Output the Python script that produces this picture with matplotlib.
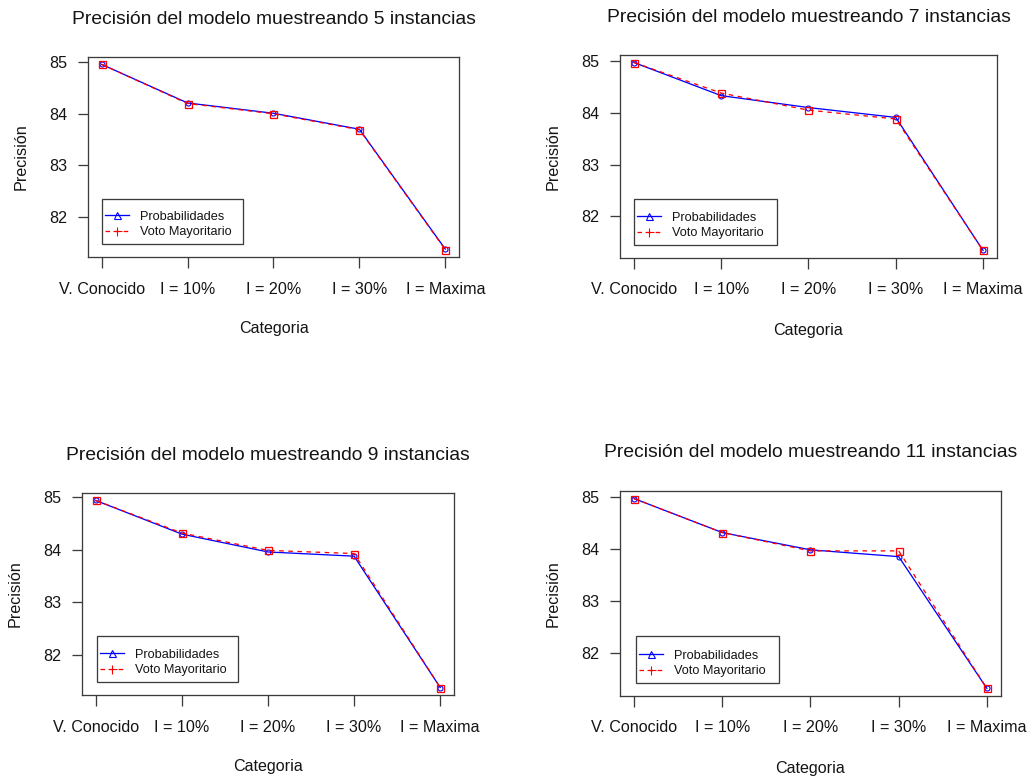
import matplotlib
matplotlib.use("Agg")
import matplotlib.pyplot as plt
from matplotlib.lines import Line2D
from matplotlib.patches import Rectangle

plt.rcParams['font.family'] = ['Liberation Sans', 'DejaVu Sans']

categories = ['V. Conocido', 'I = 10%', 'I = 20%', 'I = 30%', 'I = Maxima']
instancias = [5, 7, 9, 11]
prob_5 = [84.96, 84.21, 84.01, 83.70, 81.37]
voto_5 = [84.96, 84.20, 84.00, 83.69, 81.36]
prob_7 = [84.97, 84.33, 84.10, 83.91, 81.34]
voto_7 = [84.97, 84.38, 84.05, 83.88, 81.34]
prob_9 = [84.94, 84.30, 83.96, 83.88, 81.38]
voto_9 = [84.94, 84.32, 83.99, 83.93, 81.38]
prob_11 = [84.96, 84.31, 83.98, 83.85, 81.33]
voto_11 = [84.96, 84.31, 83.96, 83.96, 81.33]
yticks = [82, 83, 84, 85]

W, H = 1028, 778
DPI = 100
PT = 72.0 / DPI  # points per pixel

# axes boxes in pixels: left, top, right, bottom
boxes = [(88, 57, 459, 257), (620, 55, 997, 258),
         (82, 493, 454, 695), (620, 491, 1001, 696)]
title_gap = [37, 38, 37, 38]
# legend frame boxes in pixels: left, top, right, bottom
leg_boxes = [(102, 199, 243, 244), (634, 199, 777, 245),
             (97, 636, 238, 682), (636, 636, 779, 683)]
series = [(prob_5, voto_5), (prob_7, voto_7), (prob_9, voto_9), (prob_11, voto_11)]

fig = plt.figure(figsize=(W / DPI, H / DPI), dpi=DPI)
frame_col = '#3c3c3c'
txt_col = '#141414'

for i, (box, (prob, voto)) in enumerate(zip(boxes, series)):
    l, t, r, b = box
    aw, ah = r - l, b - t
    ax = fig.add_axes([l / W, 1 - b / H, aw / W, ah / H])
    x = list(range(1, len(categories) + 1))
    ax.plot(x, prob, color='blue', lw=1.3 * PT, marker='o', ms=5 * PT,
            mfc='none', mec='blue', mew=1.1 * PT, zorder=3)
    ax.plot(x, voto, color='red', lw=1.3 * PT, ls=(0, (3.5, 3.5)), marker='s',
            ms=7 * PT, mfc='none', mec='red', mew=1.3 * PT, zorder=4)
    ax.margins(x=0.04, y=0.04)
    ax.set_xticks(x)
    ax.set_xticklabels(categories)
    ax.set_yticks(yticks)
    ax.set_yticklabels([str(v) for v in yticks])
    for s in ax.spines.values():
        s.set_color(frame_col)
        s.set_linewidth(1.3 * PT)
    ax.tick_params(axis='both', direction='out', length=10.5 * PT,
                   width=1.3 * PT, color=frame_col, labelsize=11.6,
                   labelcolor=txt_col)
    ax.tick_params(axis='x', pad=14 * PT)
    ax.tick_params(axis='y', pad=10 * PT)
    ax.annotate('Precisión del modelo muestreando %d instancias' % instancias[i],
                xy=(0.5, 1), xycoords='axes fraction',
                xytext=(0, title_gap[i] * PT), textcoords='offset points',
                ha='center', va='center', fontsize=13.9, color=txt_col)
    ax.annotate('Categoria', xy=(0.5, 0), xycoords='axes fraction',
                xytext=(0, -72 * PT), textcoords='offset points',
                ha='center', va='center', fontsize=11.6, color=txt_col)
    ax.annotate('Precisión', xy=(0, 0.5), xycoords='axes fraction',
                xytext=(-67 * PT, 0), textcoords='offset points',
                ha='center', va='center', rotation=90, fontsize=11.6,
                color=txt_col)

    # legend frame
    bl, bt, br, bb = leg_boxes[i]
    rect = Rectangle(((bl - l) / aw, (b - bb) / ah), (br - bl) / aw, (bb - bt) / ah,
                     transform=ax.transAxes, facecolor='white',
                     edgecolor=frame_col, lw=1.3 * PT, zorder=5, clip_on=False)
    ax.add_patch(rect)
    handles = [Line2D([], [], color='blue', lw=1.3 * PT, marker='^', ms=7 * PT,
                      mfc='none', mec='blue', mew=1.1 * PT),
               Line2D([], [], color='red', lw=1.3 * PT, ls=(0, (3.5, 3.5)), marker='+',
                      ms=9 * PT, mec='red', mew=1.1 * PT)]
    leg = ax.legend(handles, ['Probabilidades', 'Voto Mayoritario'],
                    loc='lower left',
                    bbox_to_anchor=((bl - l + 3) / aw, (b - bb + 6) / ah),
                    borderaxespad=0, borderpad=0, fontsize=9.2, frameon=False,
                    handlelength=1.9, handletextpad=0.85, labelspacing=0.25)
    leg.set_zorder(6)
    for tx in leg.get_texts():
        tx.set_color(txt_col)

fig.savefig('out.png', dpi=DPI, facecolor='white')
